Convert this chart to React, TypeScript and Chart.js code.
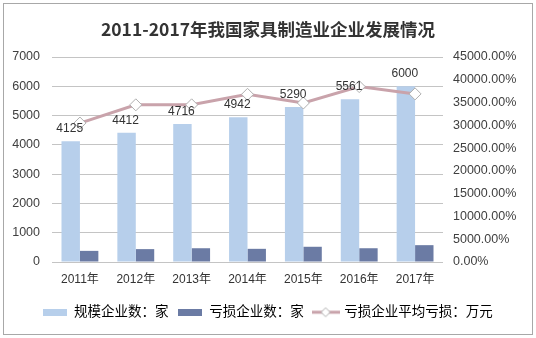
import React, { useEffect, useRef } from "react";
import { Chart, registerables } from "chart.js";

Chart.register(...registerables);

const titleText = "2011-2017年我国家具制造业企业发展情况";
const categories = ["2011年", "2012年", "2013年", "2014年", "2015年", "2016年", "2017年"];
const seriesNames = ["规模企业数：家", "亏损企业数：家", "亏损企业平均亏损：万元"];
const scaleEnterprises = [4125, 4412, 4716, 4942, 5290, 5561, 6000];
const lossEnterprises = [380, 440, 470, 450, 520, 470, 575];
const avgLoss = [30500, 34500, 34500, 36800, 34900, 38500, 36900];
const leftAxis = { min: 0, max: 7000, step: 1000 };
const rightAxis = { min: 0, max: 45000, step: 5000 };

const LIGHT = "#b7cfeb";
const DARK = "#6b7ba4";
const LINE = "#c9a3ab";
const MIX = "'Liberation Sans', 'Noto Sans CJK SC', sans-serif";

function boxImg(color: string) {
  const c = document.createElement("canvas");
  c.width = 24;
  c.height = 7;
  const g = c.getContext("2d")!;
  g.fillStyle = color;
  g.fillRect(0, 0, 24, 7);
  return c;
}

function lineImg() {
  const c = document.createElement("canvas");
  c.width = 28;
  c.height = 12;
  const g = c.getContext("2d")!;
  g.strokeStyle = LINE;
  g.lineWidth = 3;
  g.beginPath();
  g.moveTo(0, 6);
  g.lineTo(28, 6);
  g.stroke();
  g.fillStyle = "#ffffff";
  g.strokeStyle = "#b0b0b0";
  g.lineWidth = 1;
  g.beginPath();
  g.moveTo(14, 1.5);
  g.lineTo(18.5, 6);
  g.lineTo(14, 10.5);
  g.lineTo(9.5, 6);
  g.closePath();
  g.fill();
  g.stroke();
  return c;
}

const framePlugin = {
  id: "frame",
  beforeDraw(chart: any) {
    const { ctx, width, height } = chart;
    ctx.save();
    ctx.fillStyle = "#ffffff";
    ctx.fillRect(0, 0, width, height);
    ctx.strokeStyle = "#a8a8a8";
    ctx.lineWidth = 1;
    ctx.strokeRect(3.5, 3.5, width - 7, height - 7);
    ctx.restore();
  },
};

const labelPlugin = {
  id: "barLabels",
  afterDatasetsDraw(chart: any) {
    const { ctx } = chart;
    const meta = chart.getDatasetMeta(0);
    ctx.save();
    ctx.font = "12px 'Liberation Sans', sans-serif";
    ctx.fillStyle = "#333333";
    ctx.textAlign = "center";
    ctx.textBaseline = "middle";
    meta.data.forEach((el: any, i: number) => {
      ctx.fillText(String(scaleEnterprises[i]), el.x - 1, el.y - 12.5);
    });
    ctx.restore();
  },
};

export default function App() {
  const ref = useRef<HTMLCanvasElement>(null);

  useEffect(() => {
    document.body.style.margin = "0";
    const imgs = [boxImg(LIGHT), boxImg(DARK), lineImg()];
    const chart = new Chart(ref.current!, {
      type: "bar",
      data: {
        labels: categories,
        datasets: [
          {
            type: "bar",
            label: seriesNames[0],
            data: scaleEnterprises,
            backgroundColor: LIGHT,
            yAxisID: "y",
            order: 1,
            categoryPercentage: 0.66,
            barPercentage: 1,
          },
          {
            type: "bar",
            label: seriesNames[1],
            data: lossEnterprises,
            backgroundColor: DARK,
            yAxisID: "y",
            order: 1,
            categoryPercentage: 0.66,
            barPercentage: 1,
          },
          {
            type: "line",
            label: seriesNames[2],
            data: avgLoss,
            borderColor: LINE,
            borderWidth: 3,
            pointStyle: "rectRot",
            pointRadius: 6,
            pointBackgroundColor: "#ffffff",
            pointBorderColor: "#b0b0b0",
            pointBorderWidth: 1,
            yAxisID: "y1",
            order: 0,
            tension: 0,
          } as any,
        ],
      },
      options: {
        responsive: false,
        animation: false,
        layout: { padding: { left: 0, right: 0, top: 0, bottom: 9 } },
        plugins: {
          tooltip: { enabled: false },
          title: {
            display: true,
            text: titleText,
            color: "#333333",
            font: { family: "'Noto Sans CJK SC', sans-serif", size: 17.5, weight: "bold" },
            padding: { top: 19, bottom: 17 },
          },
          legend: {
            position: "bottom",
            labels: {
              usePointStyle: true,
              pointStyleWidth: 24,
              padding: 10,
              color: "#333333",
              font: { family: MIX, size: 13.5 },
              generateLabels: () =>
                seriesNames.map((t, i) => ({
                  text: t,
                  pointStyle: imgs[i] as any,
                  fillStyle: "#fff",
                  strokeStyle: "#fff",
                  lineWidth: 0,
                  hidden: false,
                  datasetIndex: i,
                })),
            },
          },
        },
        scales: {
          x: {
            grid: { display: false, drawTicks: false },
            border: { display: false },
            ticks: { color: "#333333", font: { family: MIX, size: 12 }, padding: 10 },
            afterFit: (s: any) => {
              s.height = 33.5;
            },
          },
          y: {
            position: "left",
            min: leftAxis.min,
            max: leftAxis.max,
            grid: { color: "#c4c4c4", drawTicks: false },
            border: { display: false },
            ticks: {
              stepSize: leftAxis.step,
              color: "#404040",
              padding: 12,
              font: { family: "'Liberation Sans', sans-serif", size: 12.5 },
              callback: (v: any) => String(v),
            },
            afterFit: (s: any) => {
              s.width = 52;
            },
          },
          y1: {
            position: "right",
            min: rightAxis.min,
            max: rightAxis.max,
            grid: { display: false, drawTicks: false },
            border: { display: false },
            ticks: {
              stepSize: rightAxis.step,
              color: "#404040",
              padding: 10,
              font: { family: "'Liberation Sans', sans-serif", size: 12.5 },
              callback: (v: any) => Number(v).toFixed(2) + "%",
            },
            afterFit: (s: any) => {
              s.width = 93;
            },
          },
        },
      },
      plugins: [framePlugin, labelPlugin],
    });
    return () => chart.destroy();
  }, []);

  return (
    <div style={{ width: 536, height: 338 }}>
      <canvas ref={ref} width={536} height={338} />
    </div>
  );
}
